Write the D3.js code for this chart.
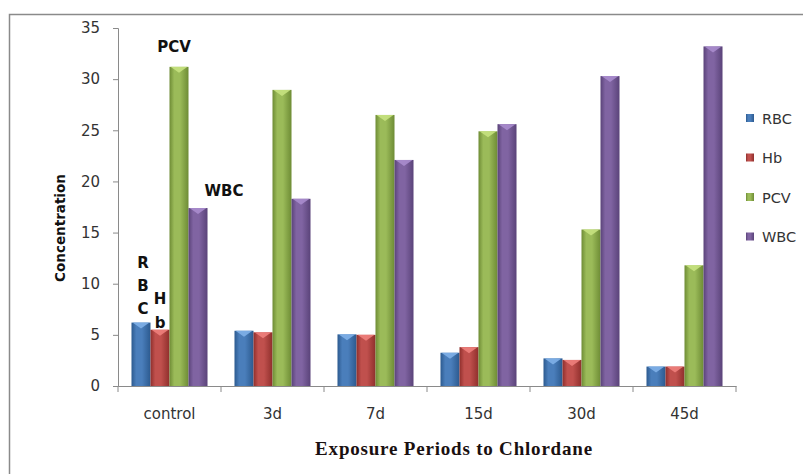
<!DOCTYPE html>
<html>
<head>
<meta charset="utf-8">
<script src="https://cdn.jsdelivr.net/npm/d3@7"></script>
<style>
  html, body { margin: 0; padding: 0; background: #fff; }
  svg { display: block; }
</style>
</head>
<body>
<svg id="chart" width="803" height="474"></svg>
<script>
// Blood parameters over exposure periods
const categories = ["control", "3d", "7d", "15d", "30d", "45d"];
const seriesNames = ["RBC", "Hb", "PCV", "WBC"];
const rbc = [6.2, 5.4, 5.05, 3.25, 2.7, 1.9];
const hb  = [5.5, 5.25, 5.0, 3.8, 2.55, 1.9];
const pcv = [31.2, 28.95, 26.5, 24.9, 15.3, 11.8];
const wbc = [17.4, 18.3, 22.1, 25.6, 30.3, 33.2];
const yTicks = [0, 5, 10, 15, 20, 25, 30, 35];

const seriesValues = [rbc, hb, pcv, wbc];
const colors = {
  RBC: { base: "#4a7ebb", light: "#7fb0e8", dark: "#2c5a8f" },
  Hb:  { base: "#c0504d", light: "#ee7f7c", dark: "#8f2f2c" },
  PCV: { base: "#9bbb59", light: "#c6e27f", dark: "#6e8c35" },
  WBC: { base: "#8064a2", light: "#a98ccd", dark: "#5a4379" }
};
const sans = "'DejaVu Sans', Verdana, sans-serif";

const svg = d3.select("#chart");
const margin = { left: 118, right: 803 - 736, top: 28, bottom: 474 - 386 };
const W = 803, H = 474;

// outer frame
svg.append("path")
  .attr("d", `M9.5,${H} V14.5 H${W}`)
  .attr("fill", "none").attr("stroke", "#8a8a8a").attr("stroke-width", 1.5);

const x0 = d3.scaleBand().domain(categories)
  .range([margin.left, W - margin.right]).paddingInner(0).paddingOuter(0);
const x1 = d3.scaleBand().domain(seriesNames)
  .range([0, x0.bandwidth()]).paddingInner(0).paddingOuter(0.71);
const y = d3.scaleLinear().domain([0, 35]).range([H - margin.bottom, margin.top]);

// gradients for cylinder-like bars
const defs = svg.append("defs");
seriesNames.forEach(s => {
  const g = defs.append("linearGradient").attr("id", "g-" + s)
    .attr("x1", "0%").attr("x2", "100%").attr("y1", "0%").attr("y2", "0%");
  g.append("stop").attr("offset", "0%").attr("stop-color", colors[s].dark);
  g.append("stop").attr("offset", "25%").attr("stop-color", colors[s].base);
  g.append("stop").attr("offset", "55%").attr("stop-color", colors[s].base);
  g.append("stop").attr("offset", "100%").attr("stop-color", colors[s].dark);
});

// y axis
const yAxis = d3.axisLeft(y).tickValues(yTicks).tickSize(5).tickPadding(13);
const gy = svg.append("g").attr("transform", `translate(${margin.left},0)`).call(yAxis);
gy.select(".domain").attr("stroke", "#8a8a8a");
gy.selectAll(".tick line").attr("stroke", "#8a8a8a");
gy.selectAll(".tick text")
  .attr("font-family", sans).attr("font-size", 15).attr("fill", "#333");

// x axis
const xAxis = d3.axisBottom(x0).tickSize(0).tickPadding(22);
const gx = svg.append("g").attr("transform", `translate(0,${y(0)})`).call(xAxis);
gx.select(".domain").attr("stroke", "#8a8a8a");
gx.selectAll(".tick text")
  .attr("font-family", sans).attr("font-size", 15).attr("fill", "#333");
// boundary ticks between categories
const bounds = categories.map(c => x0(c)).concat([x0(categories[categories.length - 1]) + x0.bandwidth()]);
gx.selectAll(".bound").data(bounds).enter().append("line")
  .attr("x1", d => d).attr("x2", d => d).attr("y1", 0).attr("y2", 6)
  .attr("stroke", "#8a8a8a");

// bars
const groups = svg.append("g").selectAll("g").data(categories).enter().append("g")
  .attr("transform", d => `translate(${x0(d)},0)`);

groups.each(function (cat, ci) {
  const g = d3.select(this);
  seriesNames.forEach((s, si) => {
    const v = seriesValues[si][ci];
    const bx = x1(s), bw = x1.bandwidth();
    g.append("rect")
      .attr("x", bx).attr("y", y(v))
      .attr("width", bw).attr("height", y(0) - y(v))
      .attr("fill", `url(#g-${s})`);
    // bevelled top
    const t = y(v);
    g.append("path")
      .attr("d", `M${bx + 1},${t} H${bx + bw - 1} L${bx + bw / 2},${t + 6} Z`)
      .attr("fill", colors[s].light).attr("opacity", 0.9);
  });
});

// annotations
const ann = svg.append("g")
  .attr("font-family", sans).attr("font-weight", "bold")
  .attr("font-size", 15).attr("fill", "#111").attr("text-anchor", "middle");
ann.append("text").attr("x", 174).attr("y", 52).text("PCV");
ann.append("text").attr("x", 224).attr("y", 196).text("WBC");
[["R", 143, 268], ["B", 143, 291], ["C", 143, 314], ["H", 160, 304], ["b", 160, 328]]
  .forEach(([t, xx, yy]) => ann.append("text").attr("x", xx).attr("y", yy).text(t));

// axis titles
svg.append("text")
  .attr("transform", "translate(65,228) rotate(-90)")
  .attr("text-anchor", "middle")
  .attr("font-family", sans).attr("font-weight", "bold")
  .attr("font-size", 13.5).attr("fill", "#111")
  .text("Concentration");
svg.append("text")
  .attr("x", 454).attr("y", 455).attr("text-anchor", "middle")
  .attr("font-family", "'Liberation Serif', 'Times New Roman', serif").attr("font-weight", "bold")
  .attr("font-size", 19).attr("letter-spacing", 0.8).attr("fill", "#1a1010")
  .text("Exposure Periods to Chlordane");

// legend
const legend = svg.append("g").selectAll("g").data(seriesNames).enter().append("g")
  .attr("transform", (d, i) => `translate(746,${118 + i * 39.5})`);
legend.append("rect").attr("x", 0).attr("y", -4).attr("width", 8).attr("height", 8)
  .attr("fill", d => `url(#g-${d})`);
legend.append("text").attr("x", 16).attr("y", 5.5)
  .attr("font-family", sans).attr("font-size", 14.5).attr("fill", "#333")
  .text(d => d);
</script>
</body>
</html>
